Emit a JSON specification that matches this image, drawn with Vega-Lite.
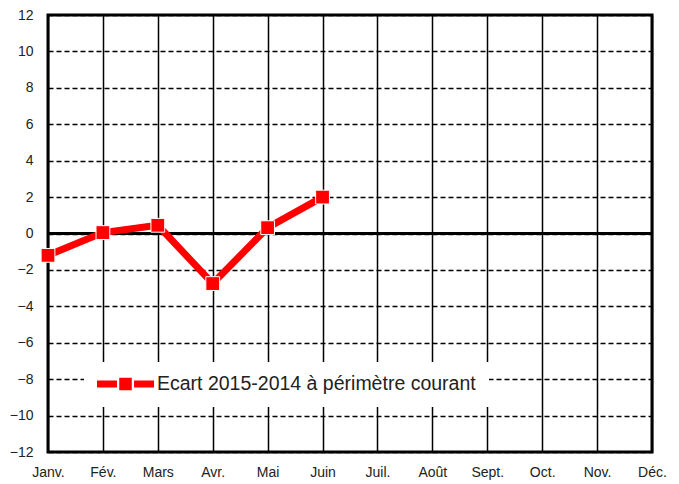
{
  "$schema": "https://vega.github.io/schema/vega-lite/v6.json",
  "autosize": "none",
  "width": 604,
  "height": 437,
  "padding": {"left": 48, "top": 15, "right": 27, "bottom": 32},
  "background": "white",
  "config": {
    "font": "Liberation Sans",
    "view": {"stroke": "black", "strokeWidth": 3}
  },
  "data": {
    "values": [
      {"mois": "Janv.", "ecart": -1.2, "serie": "Ecart 2015-2014 à périmètre courant"},
      {"mois": "Fév.", "ecart": 0.05, "serie": "Ecart 2015-2014 à périmètre courant"},
      {"mois": "Mars", "ecart": 0.45, "serie": "Ecart 2015-2014 à périmètre courant"},
      {"mois": "Avr.", "ecart": -2.75, "serie": "Ecart 2015-2014 à périmètre courant"},
      {"mois": "Mai", "ecart": 0.32, "serie": "Ecart 2015-2014 à périmètre courant"},
      {"mois": "Juin", "ecart": 2.0, "serie": "Ecart 2015-2014 à périmètre courant"}
    ]
  },
  "encoding": {
    "x": {
      "field": "mois",
      "type": "ordinal",
      "scale": {
        "type": "point",
        "padding": 0,
        "domain": ["Janv.", "Fév.", "Mars", "Avr.", "Mai", "Juin", "Juil.", "Août", "Sept.", "Oct.", "Nov.", "Déc."]
      },
      "axis": {
        "title": null,
        "labelAngle": 0,
        "domain": false,
        "ticks": false,
        "labelPadding": 13,
        "labelFontSize": 14,
        "labelColor": "#222",
        "grid": true,
        "gridColor": "black",
        "gridWidth": 1.5,
        "gridOpacity": 1
      }
    },
    "y": {
      "field": "ecart",
      "type": "quantitative",
      "scale": {"domain": [-12, 12], "nice": false},
      "axis": {
        "title": null,
        "values": [-12, -10, -8, -6, -4, -2, 0, 2, 4, 6, 8, 10, 12],
        "domain": false,
        "ticks": false,
        "labelPadding": 15,
        "labelFontSize": 14,
        "labelColor": "#222",
        "grid": true,
        "gridColor": "black",
        "gridWidth": 1.5,
        "gridOpacity": 1,
        "gridDash": [5, 3]
      }
    }
  },
  "layer": [
    {
      "mark": {"type": "rule", "color": "black", "strokeWidth": 3},
      "encoding": {"y": {"datum": 0}, "x": null}
    },
    {
      "mark": {"type": "line", "strokeWidth": 7, "strokeJoin": "miter"},
      "encoding": {
        "color": {
          "field": "serie",
          "type": "nominal",
          "scale": {"range": ["#ff0000"]},
          "legend": {
            "title": null,
            "orient": "none",
            "legendX": 36,
            "legendY": 347,
            "padding": 13,
            "clipHeight": 18,
            "fillColor": "white",
            "strokeColor": null,
            "labelFontSize": 19.5,
            "labelColor": "#222",
            "labelOffset": 3,
            "labelLimit": 500,
            "symbolType": "M-1,-0.12H-0.3V0.12H-1Z M-0.22,-0.22H0.22V0.22H-0.22Z M0.3,-0.12H1V0.12H0.3Z",
            "symbolSize": 3249,
            "symbolFillColor": "#ff0000",
            "symbolStrokeWidth": 0,
            "encode": {
              "symbols": {
                "update": {
                  "fill": {"value": "#ff0000"},
                  "stroke": {"value": "transparent"},
                  "strokeWidth": {"value": 0},
                  "shape": {"value": "M-1,-0.12H-0.3V0.12H-1Z M-0.22,-0.22H0.22V0.22H-0.22Z M0.3,-0.12H1V0.12H0.3Z"},
                  "size": {"value": 3249}
                }
              }
            }
          }
        }
      }
    },
    {
      "mark": {"type": "point", "shape": "square", "filled": true, "size": 190, "stroke": "white", "strokeWidth": 1, "opacity": 1, "color": "#ff0000"}
    }
  ]
}
